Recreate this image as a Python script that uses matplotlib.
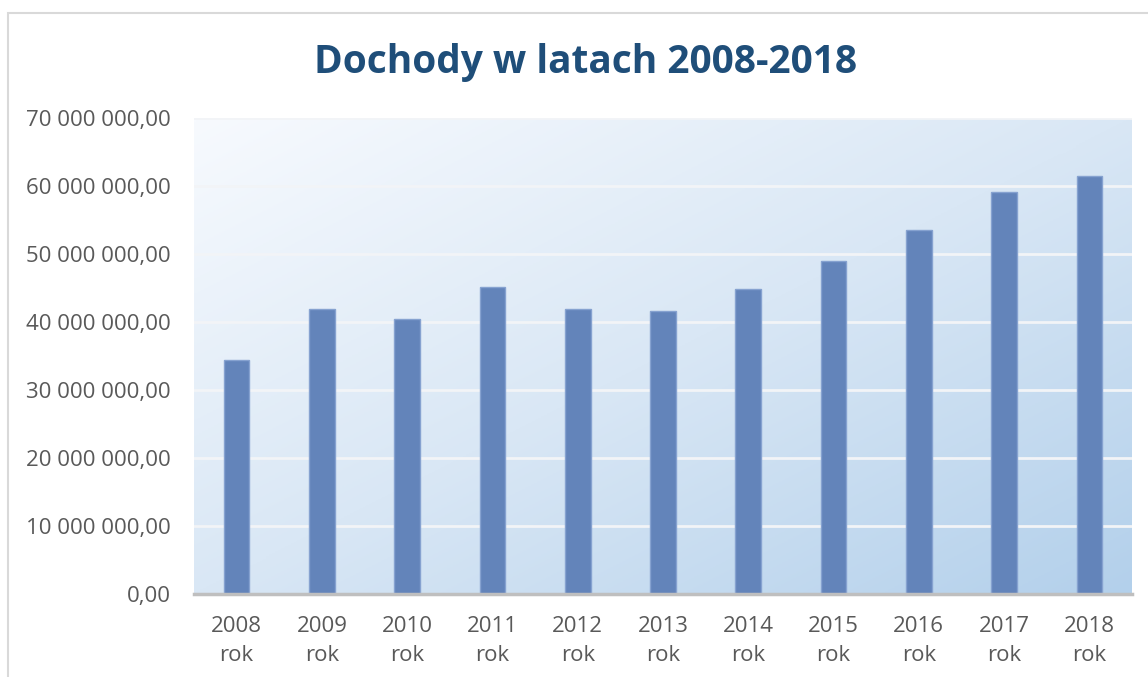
import numpy as np
import matplotlib.pyplot as plt
from matplotlib.colors import LinearSegmentedColormap
from matplotlib.patches import Rectangle

plt.rcParams['font.family'] = ['Open Sans', 'DejaVu Sans']

years = ['2008', '2009', '2010', '2011', '2012', '2013', '2014', '2015', '2016', '2017', '2018']
values = [34.4e6, 41.9e6, 40.4e6, 45.1e6, 41.9e6, 41.6e6, 44.9e6, 48.9e6, 53.5e6, 59.1e6, 61.5e6]
labels = [y + '\nrok' for y in years]

fig = plt.figure(figsize=(11.48, 6.77), dpi=100)
ax = fig.add_axes([194/1148, 83/677, 938/1148, 476/677])

# outer chart border
fig.patches.append(Rectangle((8/1148, -0.05), 1.2, (677-13)/677 + 0.05,
                             transform=fig.transFigure, fill=False,
                             edgecolor='#D9D9D9', linewidth=1.5))

# diagonal gradient background: white top-left -> blue bottom-right
gx, gy = np.meshgrid(np.linspace(0, 1, 300), np.linspace(0, 1, 300))
g = (gx + gy) / 2
cmap = LinearSegmentedColormap.from_list('bg', ['#F7FAFE', '#D9E7F5', '#B3D0EB'])
ax.imshow(g, extent=[0, 1, 0, 1], transform=ax.transAxes, cmap=cmap,
          aspect='auto', origin='upper', zorder=0)

x = np.arange(len(years))
ax.bar(x, values, width=0.3, color='#6384BA', edgecolor='#86A2D0',
       linewidth=1, zorder=3)

ax.set_xlim(-0.5, len(years) - 0.5)
ax.set_ylim(0, 70e6)
ax.set_yticks(np.arange(0, 70e6 + 1, 10e6))
ax.set_yticklabels([f'{int(v):,}'.replace(',', ' ') + ',00' for v in np.arange(0, 70e6 + 1, 10e6)])
ax.set_xticks(x)
ax.set_xticklabels(labels, linespacing=1.5)

ax.yaxis.grid(True, color='#F2F4F7', linewidth=2, zorder=1)
ax.set_axisbelow(False)
for s in ['top', 'right', 'left']:
    ax.spines[s].set_visible(False)
ax.spines['bottom'].set_color('#BFBFBF')
ax.spines['bottom'].set_linewidth(2.5)
ax.spines['bottom'].set_zorder(4)

ax.tick_params(axis='y', length=0, pad=17, labelsize=16, labelcolor='#595959')
ax.tick_params(axis='x', length=0, pad=16, labelsize=16, labelcolor='#595959')

fig.text(586/1148, 1 - 63/677, 'Dochody w latach 2008-2018', ha='center', va='center',
         fontsize=28, fontweight='bold', color='#1F4E79')

fig.savefig('out.png', dpi=100)
